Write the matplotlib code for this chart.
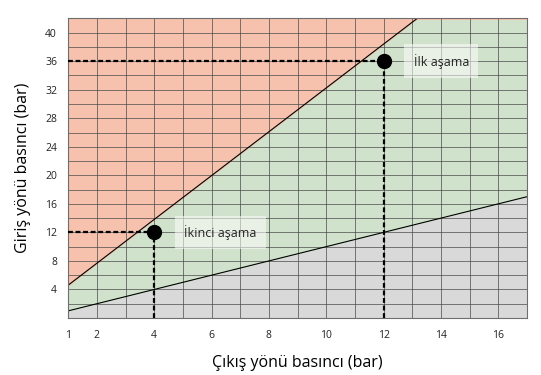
import matplotlib
matplotlib.use('Agg')
import matplotlib.pyplot as plt
import numpy as np

plt.rcParams['font.family'] = ['Open Sans', 'DejaVu Sans']

# boundary lines (outlet pressure -> inlet pressure)
upper_x = [1, 13.5]
upper_y = [4.6, 43.0]
lower_x = [1, 17]
lower_y = [1.0, 17.0]

# stage points
stage_x = [12, 4]
stage_y = [36, 12]
stage_labels = ['İlk aşama', 'İkinci aşama']

x_ticks = [1, 2, 4, 6, 8, 10, 12, 14, 16]
y_ticks = [4, 8, 12, 16, 20, 24, 28, 32, 36, 40]

fig = plt.figure(figsize=(5.41, 3.75), dpi=100)
ax = fig.add_axes([0.126, 0.152, 0.848, 0.799])
ax.set_xlim(1, 17)
ax.set_ylim(0, 42)

xs = np.linspace(1, 17, 200)
up = upper_y[0] + (xs - upper_x[0]) * (upper_y[1] - upper_y[0]) / (upper_x[1] - upper_x[0])
lo = lower_y[0] + (xs - lower_x[0]) * (lower_y[1] - lower_y[0]) / (lower_x[1] - lower_x[0])

ax.fill_between(xs, 0, lo, color='#d9d9d9', zorder=0)
ax.fill_between(xs, lo, np.minimum(up, 42), color='#d0e2cb', zorder=0)
ax.fill_between(xs, np.minimum(up, 42), 42, color='#f6c2ad', zorder=0)

ax.set_xticks(np.arange(1, 18, 1), minor=True)
ax.set_yticks(np.arange(0, 43, 2), minor=True)
ax.set_xticks(x_ticks)
ax.set_yticks(y_ticks)
ax.grid(which='both', color='#4a4a4a', linewidth=0.5, zorder=1)
ax.tick_params(which='both', length=0, labelsize=7.5, colors='#222222')
ax.tick_params(axis='x', pad=9)
ax.tick_params(axis='y', pad=8)

ax.plot(upper_x, upper_y, color='black', linewidth=0.8, zorder=2)
ax.plot(lower_x, lower_y, color='black', linewidth=0.8, zorder=2)

for px, py, lab in zip(stage_x, stage_y, stage_labels):
    ax.plot([1, px], [py, py], color='black', linestyle=(0, (2.2, 1.2)), linewidth=1.6, zorder=3)
    ax.plot([px, px], [0, py], color='black', linestyle=(0, (2.2, 1.2)), linewidth=1.6, zorder=3)
    ax.plot(px, py, 'o', color='black', markersize=10, zorder=4)
    ax.text(px + 1.05, py, lab, fontsize=9, va='center', ha='left', color='#222222', zorder=5,
            bbox=dict(boxstyle='square,pad=0.75', facecolor='white', edgecolor='none', alpha=0.55))

for s in ax.spines.values():
    s.set_color('#6e6e6e')
    s.set_linewidth(0.8)

ax.set_xlabel('Çıkış yönü basıncı (bar)', fontsize=11.5, labelpad=10)
ax.set_ylabel('Giriş yönü basıncı (bar)', fontsize=11.5, labelpad=10)

fig.savefig('out.png', dpi=100)
